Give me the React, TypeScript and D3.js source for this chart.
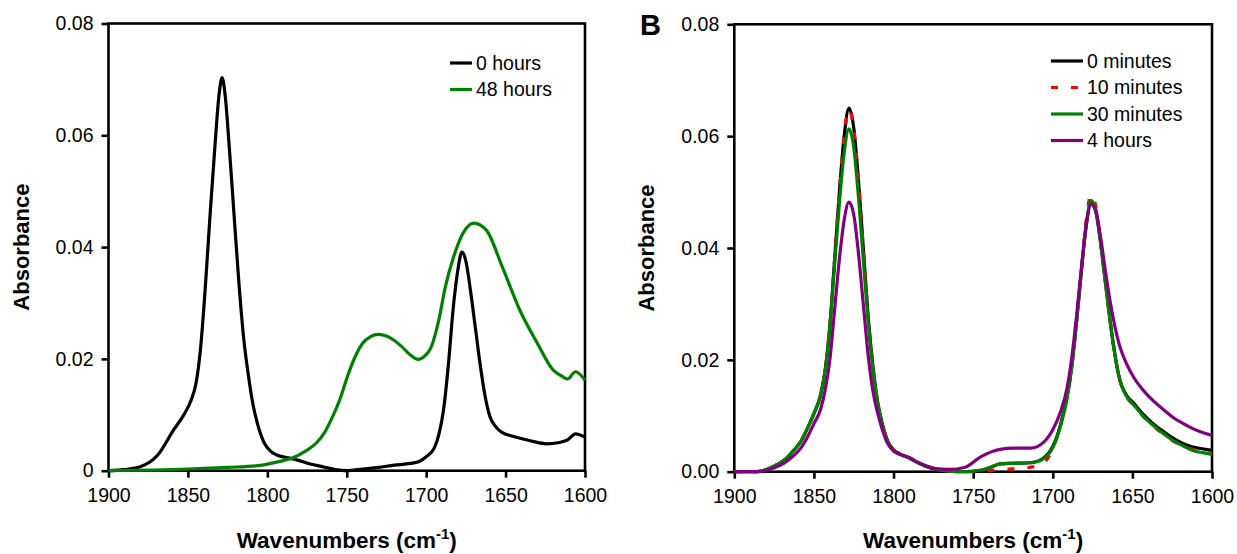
import React, { useRef, useEffect } from 'react';
import * as d3 from 'd3';

const wnTicks = [1900, 1850, 1800, 1750, 1700, 1650, 1600];
const absTicks = [0, 0.02, 0.04, 0.06, 0.08];

// panel A : 0 hours
const hours0Wn = [1900, 1890, 1880, 1869, 1859, 1853, 1848, 1845, 1842, 1839, 1836, 1833, 1830.5, 1828.5, 1826.5, 1824, 1821, 1818, 1815, 1812, 1809, 1806, 1802, 1798, 1794, 1787, 1781, 1773, 1765, 1757, 1750, 1740, 1730, 1720, 1710, 1704, 1700, 1695, 1692, 1689, 1686, 1683, 1680, 1677.5, 1675, 1672, 1669, 1666, 1663, 1660, 1656, 1652, 1646, 1635, 1624, 1617, 1611, 1606, 1600];
const hours0Abs = [0, 0.0002, 0.0007, 0.0028, 0.0073, 0.0098, 0.0126, 0.0155, 0.022, 0.033, 0.046, 0.058, 0.067, 0.0703, 0.067, 0.058, 0.046, 0.034, 0.024, 0.0172, 0.0118, 0.0082, 0.005, 0.0035, 0.0028, 0.0023, 0.0019, 0.0012, 0.0007, 0.0002, 0, 0.0003, 0.0006, 0.001, 0.0013, 0.0017, 0.0025, 0.004, 0.0065, 0.011, 0.019, 0.029, 0.036, 0.0391, 0.0375, 0.032, 0.0255, 0.019, 0.0135, 0.0098, 0.0078, 0.0068, 0.0062, 0.0054, 0.0048, 0.005, 0.0055, 0.0066, 0.006];

// panel A : 48 hours
const hours48Wn = [1900, 1850, 1825, 1806, 1798, 1790, 1784, 1776, 1769, 1764, 1760, 1754, 1750, 1745, 1740, 1735, 1730, 1725, 1720, 1715, 1710, 1705, 1701, 1697, 1692, 1688, 1683, 1677, 1670, 1662, 1652, 1641, 1630, 1620, 1615, 1611, 1606, 1600];
const hours48Abs = [0, 0.0003, 0.0006, 0.0009, 0.0013, 0.0018, 0.0023, 0.0035, 0.005, 0.0068, 0.009, 0.013, 0.0165, 0.0202, 0.0228, 0.024, 0.0244, 0.0241, 0.0233, 0.0221, 0.0207, 0.0199, 0.0205, 0.022, 0.027, 0.0328, 0.038, 0.0424, 0.0443, 0.043, 0.0364, 0.0287, 0.0228, 0.018, 0.017, 0.0164, 0.0177, 0.0162];

// panel B : shared wavenumbers
const minWn = [1900, 1886, 1875, 1869, 1863, 1858, 1854, 1850, 1846, 1843, 1840, 1837, 1834, 1831, 1828, 1825, 1822, 1819, 1816, 1813, 1810, 1807, 1804, 1800, 1796, 1790, 1785, 1775, 1765, 1755, 1745, 1739, 1733, 1725, 1714, 1706, 1700, 1695, 1691, 1688, 1685, 1682, 1679, 1676, 1673, 1670, 1667, 1664, 1661, 1658, 1654, 1649, 1643, 1637, 1630, 1624, 1618, 1612, 1606, 1600];
const min0Abs = [0, 0, 0.001, 0.002, 0.0037, 0.0055, 0.0078, 0.0104, 0.0135, 0.018, 0.026, 0.038, 0.05, 0.06, 0.065, 0.0615, 0.052, 0.04, 0.028, 0.019, 0.0125, 0.0085, 0.0057, 0.0039, 0.0032, 0.0025, 0.0017, 0.0006, 0.0001, 0, 0.0002, 0.0008, 0.0014, 0.0015, 0.0016, 0.0024, 0.0045, 0.0085, 0.0135, 0.019, 0.027, 0.036, 0.044, 0.048, 0.0465, 0.041, 0.034, 0.027, 0.021, 0.0165, 0.0138, 0.0122, 0.0102, 0.0086, 0.0071, 0.0059, 0.005, 0.0044, 0.0041, 0.0038];
const min10Abs = [0, 0, 0.001, 0.002, 0.0037, 0.0055, 0.0078, 0.0104, 0.0135, 0.018, 0.026, 0.038, 0.05, 0.06, 0.0648, 0.0613, 0.052, 0.04, 0.028, 0.019, 0.0125, 0.0085, 0.0057, 0.0039, 0.0032, 0.0025, 0.0017, 0.0006, 0.0001, 0, 0.0001, 0.0002, 0.0004, 0.0005, 0.0008, 0.0015, 0.0042, 0.0085, 0.0135, 0.019, 0.027, 0.036, 0.045, 0.0495, 0.0475, 0.041, 0.034, 0.027, 0.021, 0.0165, 0.0136, 0.0118, 0.0098, 0.0082, 0.0066, 0.0054, 0.0045, 0.004, 0.0036, 0.0033];
const min30Abs = [0, 0, 0.001, 0.002, 0.0037, 0.0055, 0.0078, 0.0104, 0.0135, 0.018, 0.026, 0.037, 0.048, 0.057, 0.0613, 0.058, 0.049, 0.038, 0.027, 0.0185, 0.0122, 0.0083, 0.0056, 0.0038, 0.0031, 0.0024, 0.0016, 0.0005, 0.0001, 0, 0.0003, 0.0008, 0.0014, 0.0015, 0.0016, 0.0023, 0.0043, 0.0083, 0.0132, 0.0188, 0.027, 0.036, 0.044, 0.0485, 0.0468, 0.041, 0.034, 0.027, 0.021, 0.0165, 0.0136, 0.0119, 0.0099, 0.0083, 0.0067, 0.0055, 0.0046, 0.0038, 0.0034, 0.0031];
const hours4Abs = [0, 0, 0.0007, 0.0015, 0.0028, 0.0043, 0.0062, 0.0086, 0.011, 0.0145, 0.02, 0.029, 0.038, 0.045, 0.0482, 0.046, 0.039, 0.03, 0.021, 0.0145, 0.0105, 0.0075, 0.0052, 0.0037, 0.0031, 0.0025, 0.0017, 0.0006, 0.0004, 0.0008, 0.0027, 0.0035, 0.004, 0.0042, 0.0042, 0.0052, 0.0075, 0.0108, 0.015, 0.0205, 0.028, 0.0365, 0.0442, 0.0478, 0.0467, 0.042, 0.036, 0.0305, 0.026, 0.0225, 0.0195, 0.0168, 0.0145, 0.0127, 0.011, 0.0096, 0.0086, 0.0077, 0.007, 0.0065];

const FONT = 'Liberation Sans, Arial, Helvetica, sans-serif';

const App = () => {
  const svgRef = useRef<SVGSVGElement>(null);
  const width = 1237;
  const height = 554;

  useEffect(() => {
    const svg = d3.select(svgRef.current);
    svg.selectAll('*').remove();

    const drawPanel = (p: any) => {
      const x = d3.scaleLinear().domain([1900, 1600]).range([p.left, p.right]);
      const y = d3.scaleLinear().domain([0, 0.08]).range([p.bottom, p.top]);
      const g = svg.append('g');

      // frame
      g.append('rect')
        .attr('x', p.left)
        .attr('y', p.top)
        .attr('width', p.right - p.left)
        .attr('height', p.bottom - p.top)
        .attr('fill', 'none')
        .attr('stroke', '#000')
        .attr('stroke-width', 2.6);

      const xAxis = g.append('g')
        .attr('transform', `translate(0,${p.bottom})`)
        .call(d3.axisBottom(x).tickValues(wnTicks).tickSize(7).tickPadding(10).tickFormat(d3.format('d')));
      const yAxis = g.append('g')
        .attr('transform', `translate(${p.left},0)`)
        .call(d3.axisLeft(y).tickValues(absTicks).tickSize(7).tickPadding(8)
          .tickFormat((d: any) => (d === 0 && p.zeroPlain ? '0' : d3.format('.2f')(d))));
      [xAxis, yAxis].forEach(a => {
        a.select('.domain').remove();
        a.selectAll('line').attr('stroke-width', 2.6);
        a.selectAll('text').attr('font-family', FONT).attr('font-size', 19.5).attr('fill', '#000');
      });

      const line = d3.line<[number, number]>()
        .x(d => x(d[0]))
        .y(d => y(d[1]))
        .curve(d3.curveMonotoneX);

      p.series.forEach((s: any) => {
        g.append('path')
          .datum(d3.zip(s.wn, s.abs))
          .attr('d', line as any)
          .attr('fill', 'none')
          .attr('stroke', s.color)
          .attr('stroke-width', 3.2)
          .attr('stroke-linejoin', 'round')
          .attr('stroke-dasharray', s.dash || null);
      });

      // legend
      p.series.forEach((s: any, i: number) => {
        const ly = p.legY + i * 26.5;
        g.append('line')
          .attr('x1', p.legX)
          .attr('x2', p.legX + p.legLen)
          .attr('y1', ly)
          .attr('y2', ly)
          .attr('stroke', s.color)
          .attr('stroke-width', 3.2)
          .attr('stroke-dasharray', s.dash || null);
        g.append('text')
          .attr('x', p.legX + p.legLen + 4)
          .attr('y', ly)
          .attr('dy', '0.35em')
          .attr('font-family', FONT)
          .attr('font-size', 19.5)
          .text(s.label);
      });

      // axis titles
      const xt = g.append('text')
        .attr('x', (p.left + p.right) / 2)
        .attr('y', 548)
        .attr('text-anchor', 'middle')
        .attr('font-family', FONT)
        .attr('font-weight', 'bold')
        .attr('font-size', 22.5);
      xt.append('tspan').text('Wavenumbers (cm');
      xt.append('tspan').attr('dy', -9).attr('font-size', 15).text('-1');
      xt.append('tspan').attr('dy', 9).text(')');

      g.append('text')
        .attr('transform', `translate(${p.left - 80},${(p.top + p.bottom) / 2}) rotate(-90)`)
        .attr('text-anchor', 'middle')
        .attr('font-family', FONT)
        .attr('font-weight', 'bold')
        .attr('font-size', 22)
        .text('Absorbance');
    };

    drawPanel({
      left: 108.5, right: 585, top: 23.5, bottom: 470.7, zeroPlain: true,
      legX: 450, legY: 63, legLen: 22,
      series: [
        { label: '0 hours', color: '#000000', wn: hours0Wn, abs: hours0Abs },
        { label: '48 hours', color: '#008000', wn: hours48Wn, abs: hours48Abs },
      ],
    });

    drawPanel({
      left: 734.3, right: 1212, top: 24.3, bottom: 471.7, zeroPlain: false,
      legX: 1051, legY: 61, legLen: 32,
      series: [
        { label: '0 minutes', color: '#000000', wn: minWn, abs: min0Abs },
        { label: '10 minutes', color: '#ff0000', wn: minWn, abs: min10Abs, dash: '7,13' },
        { label: '30 minutes', color: '#008000', wn: minWn, abs: min30Abs },
        { label: '4 hours', color: '#800080', wn: minWn, abs: hours4Abs },
      ],
    });

    svg.append('text')
      .attr('x', 640)
      .attr('y', 35)
      .attr('font-family', FONT)
      .attr('font-weight', 'bold')
      .attr('font-size', 29)
      .text('B');
  }, []);

  return (
    <svg
      ref={svgRef}
      width={width}
      height={height}
      style={{ position: 'absolute', left: 0, top: 0, background: '#fff' }}
    />
  );
};

export default App;
